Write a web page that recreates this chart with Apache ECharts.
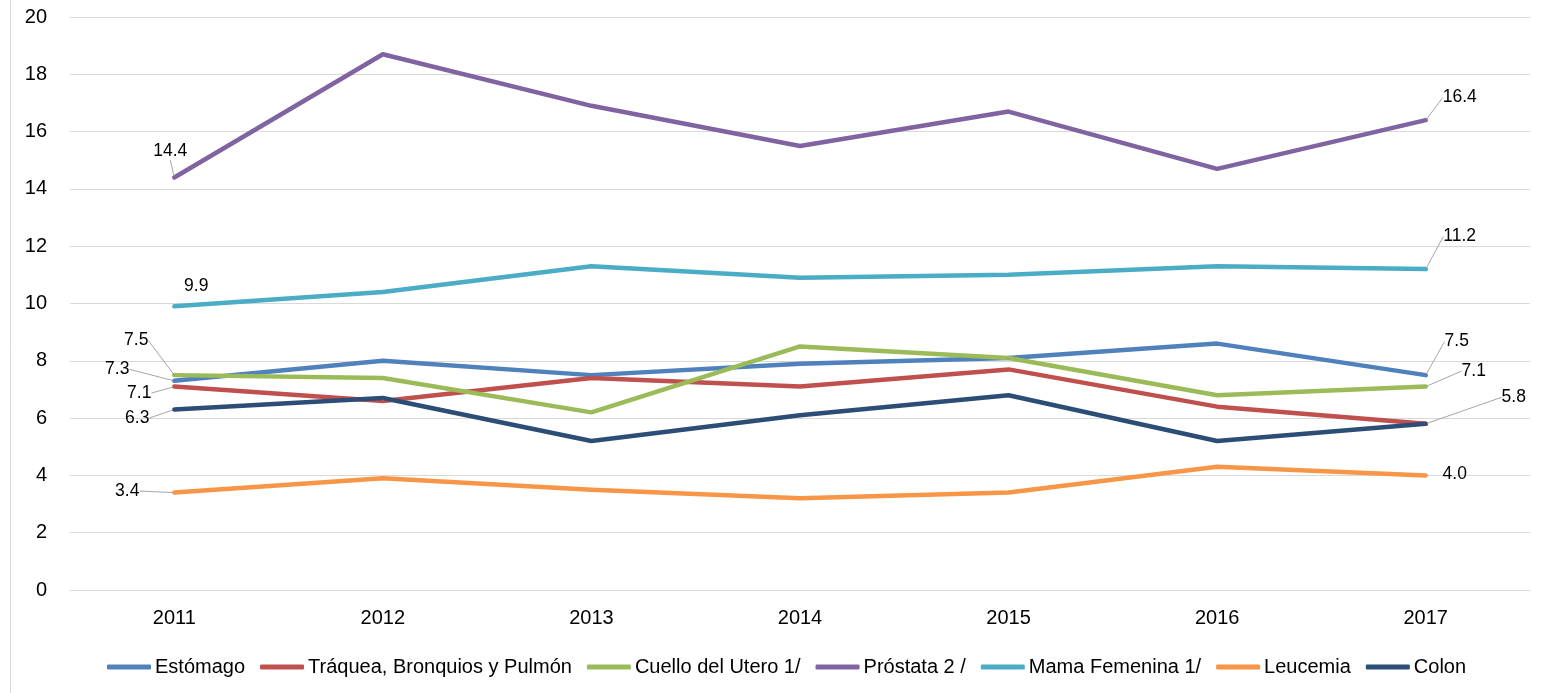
<!DOCTYPE html>
<html><head><meta charset="utf-8">
<script src="https://cdn.jsdelivr.net/npm/echarts@6/dist/echarts.min.js"></script>
<style>html,body{margin:0;padding:0;background:#fff}#c{width:1545px;height:693px}</style>
</head><body><div id="c"></div>
<script>
const years = ['2011','2012','2013','2014','2015','2016','2017'];
const seriesNames = ['Estómago','Tráquea, Bronquios y Pulmón','Cuello del Utero 1/','Próstata 2 /','Mama Femenina 1/','Leucemia','Colon'];
const estomago = [7.3, 8.0, 7.5, 7.9, 8.1, 8.6, 7.5];
const traquea  = [7.1, 6.6, 7.4, 7.1, 7.7, 6.4, 5.8];
const cuello   = [7.5, 7.4, 6.2, 8.5, 8.1, 6.8, 7.1];
const prostata = [14.4, 18.7, 16.9, 15.5, 16.7, 14.7, 16.4];
const mama     = [9.9, 10.4, 11.3, 10.9, 11.0, 11.3, 11.2];
const leucemia = [3.4, 3.9, 3.5, 3.2, 3.4, 4.3, 4.0];
const colon    = [6.3, 6.7, 5.2, 6.1, 6.8, 5.2, 5.8];
const yTicks = [0,2,4,6,8,10,12,14,16,18,20];

const values = [estomago, traquea, cuello, prostata, mama, leucemia, colon];
const colors = ['#4F81BD','#C0504D','#9BBB59','#8064A2','#4BACC6','#F79646','#2C4D75'];
// which points get a data label: [first, last]
const labelled = [[true,true],[true,false],[true,true],[true,true],[true,true],[true,true],[true,true]];
// label offsets (style) per series: [first [dx,dy,leader], last [dx,dy,leader]]
const offs = [
  [[-57,4,true],[31,-18,true]],
  [[-35,22,true],null],
  [[-38,-19,true],[48,0,true]],
  [[-4,-11,true],[34,-7,true]],
  [[22,-5,false],[34,-17,true]],
  [[-47,14,true],[29,14,false]],
  [[-37,24,true],[88,-11,true]]
];
const FONT = "'Liberation Sans',Arial,sans-serif";

const series = seriesNames.map((name, si) => ({
  name, type: 'line', smooth: false,
  symbol: 'circle', symbolSize: 3, showSymbol: true,
  lineStyle: {width: 4.5, color: colors[si], cap: 'round', join: 'round'},
  itemStyle: {color: colors[si]},
  emphasis: {disabled: true},
  data: values[si].map((v, i) => {
    const idx = i === 0 ? 0 : (i === values[si].length - 1 ? 1 : -1);
    const show = idx >= 0 && labelled[si][idx];
    const o = show ? offs[si][idx] : null;
    return {
      value: v,
      label: {show: show, formatter: p => p.value.toFixed(1), color: '#000', fontSize: 17.5, fontFamily: FONT},
      labelLine: {show: !!(o && o[2]), lineStyle: {color: '#a6a6a6', width: 1}}
    };
  }),
  labelLayout: (p) => {
    const idx = p.dataIndex === 0 ? 0 : 1;
    const o = offs[si][idx];
    if (!o) return {};
    return {dx: o[0], dy: o[1]};
  }
}));

const chart = echarts.init(document.getElementById('c'), null, {renderer: 'canvas'});
chart.setOption({
  animation: false,
  backgroundColor: '#fff',
  color: colors,
  grid: {left: 70, right: 15, top: 17, bottom: 103, containLabel: false},
  xAxis: {
    type: 'category', data: years, boundaryGap: true,
    axisLine: {show: true, lineStyle: {color: '#d9d9d9'}},
    axisTick: {show: false},
    axisLabel: {color: '#000', fontSize: 20, fontFamily: FONT, margin: 18}
  },
  yAxis: {
    type: 'value', min: yTicks[0], max: yTicks[yTicks.length-1], interval: 2,
    axisLine: {show: false}, axisTick: {show: false},
    splitLine: {lineStyle: {color: '#d9d9d9', width: 1}},
    axisLabel: {color: '#000', fontSize: 20, fontFamily: FONT, margin: 23}
  },
  legend: {
    top: 652, left: 102, icon: 'roundRect', itemWidth: 44, itemHeight: 5, itemGap: 15,
    textStyle: {color: '#000', fontSize: 20, fontFamily: FONT, padding: [0,0,0,-1]},
    data: seriesNames
  },
  graphic: [{type: 'line', shape: {x1: 10.5, y1: 0, x2: 10.5, y2: 693}, style: {stroke: '#d9d9d9', lineWidth: 1}}],
  series
});
</script></body></html>
